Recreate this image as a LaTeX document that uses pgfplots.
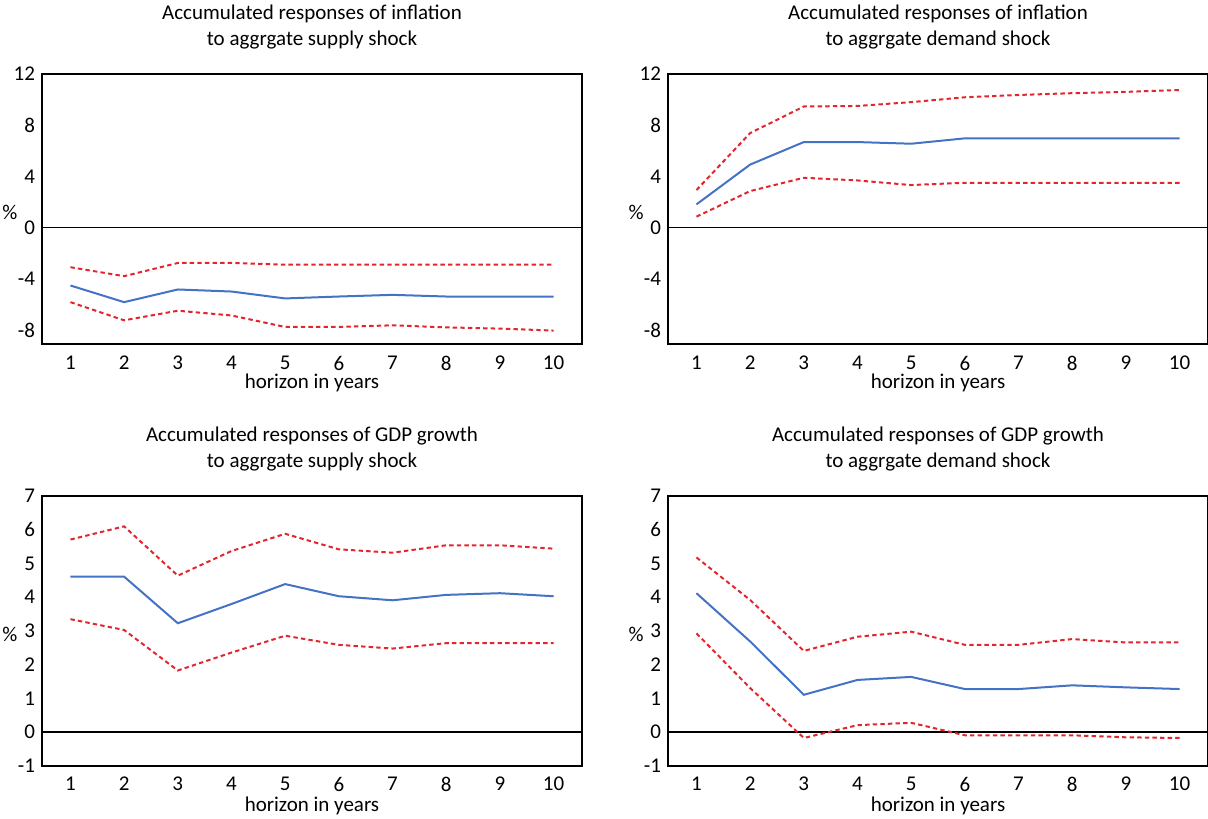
\documentclass[border=0pt]{standalone}
\usepackage{fontspec}
\setmainfont{Carlito}
\usepackage{pgfplots}
\pgfplotsset{compat=1.18}
\definecolor{lblue}{HTML}{4472C4}
\definecolor{lred}{HTML}{E3262E}
\pgfplotsset{
  irf/.style={
    scale only axis, width=270pt, height=135pt,
    xmin=0.47, xmax=10.53,
    xtick={1,...,10},
    axis line style={line width=1pt},
    tick style={draw=none},
    font=\fontsize{10.5}{13.3}\selectfont,
    /pgf/number format/assume math mode=true,
    xticklabel style={yshift=-2.5pt},
    yticklabel style={xshift=0pt},
    title style={at={(0.5,1)}, anchor=south, inner sep=0pt, yshift=6pt, align=center, font=\fontsize{10.5}{13.3}\selectfont},
    every axis x label/.style={at={(axis description cs:0.5,0)}, anchor=base, yshift=-22.5pt},
    every axis y label/.style={at={(axis description cs:0,0.487)}, anchor=center, xshift=-16pt},
    xlabel={horizon in years}, ylabel={\%},
    clip=false,
  },
  mid/.style={color=lblue, line width=1pt},
  band/.style={color=lred, line width=1pt, dash pattern=on 2.2pt off 1.6pt},
}
\begin{document}
\begin{tikzpicture}
\useasboundingbox (0,0) rectangle (604pt,409pt);
% top-left
\begin{axis}[irf, at={(21pt,237pt)}, anchor=south west,
  ymin=-9.1, ymax=12, ytick={-8,-4,0,4,8,12},
  title={Accumulated responses of inflation\\to aggrgate supply shock}]
\draw[line width=0.8pt] (axis cs:0.47,0) -- (axis cs:10.53,0);
\addplot[band] coordinates {(1,-3.1) (2,-3.8) (3,-2.77) (4,-2.77) (5,-2.9) (6,-2.9) (7,-2.9) (8,-2.9) (9,-2.9) (10,-2.9)};
\addplot[band] coordinates {(1,-5.83) (2,-7.25) (3,-6.5) (4,-6.87) (5,-7.77) (6,-7.77) (7,-7.64) (8,-7.8) (9,-7.9) (10,-8.05)};
\addplot[mid] coordinates {(1,-4.53) (2,-5.83) (3,-4.84) (4,-5.0) (5,-5.54) (6,-5.39) (7,-5.26) (8,-5.39) (9,-5.39) (10,-5.39)};
\end{axis}
% top-right
\begin{axis}[irf, at={(334pt,237pt)}, anchor=south west,
  ymin=-9.1, ymax=12, ytick={-8,-4,0,4,8,12},
  title={Accumulated responses of inflation\\to aggrgate demand shock}]
\draw[line width=0.8pt] (axis cs:0.47,0) -- (axis cs:10.53,0);
\addplot[band] coordinates {(1,2.93) (2,7.38) (3,9.46) (4,9.5) (5,9.8) (6,10.18) (7,10.36) (8,10.5) (9,10.6) (10,10.75)};
\addplot[band] coordinates {(1,0.85) (2,2.85) (3,3.89) (4,3.68) (5,3.32) (6,3.5) (7,3.5) (8,3.5) (9,3.5) (10,3.5)};
\addplot[mid] coordinates {(1,1.81) (2,4.92) (3,6.68) (4,6.68) (5,6.55) (6,6.97) (7,6.97) (8,6.97) (9,6.97) (10,6.97)};
\end{axis}
% bottom-left
\begin{axis}[irf, at={(21pt,26pt)}, anchor=south west,
  ymin=-1, ymax=7, ytick={-1,0,...,7},
  xticklabel style={yshift=0.5pt},
  title={Accumulated responses of GDP growth\\to aggrgate supply shock}]
\draw[line width=0.8pt] (axis cs:0.47,0) -- (axis cs:10.53,0);
\addplot[band] coordinates {(1,5.71) (2,6.1) (3,4.64) (4,5.37) (5,5.88) (6,5.42) (7,5.32) (8,5.54) (9,5.54) (10,5.44)};
\addplot[band] coordinates {(1,3.35) (2,3.03) (3,1.83) (4,2.36) (5,2.86) (6,2.59) (7,2.48) (8,2.64) (9,2.64) (10,2.64)};
\addplot[mid] coordinates {(1,4.61) (2,4.61) (3,3.23) (4,3.8) (5,4.39) (6,4.03) (7,3.91) (8,4.07) (9,4.12) (10,4.03)};
\end{axis}
% bottom-right
\begin{axis}[irf, at={(334pt,26pt)}, anchor=south west,
  ymin=-1, ymax=7, ytick={-1,0,...,7},
  xticklabel style={yshift=0.5pt},
  title={Accumulated responses of GDP growth\\to aggrgate demand shock}]
\draw[line width=0.8pt] (axis cs:0.47,0) -- (axis cs:10.53,0);
\addplot[band] coordinates {(1,5.18) (2,3.92) (3,2.41) (4,2.83) (5,2.98) (6,2.59) (7,2.59) (8,2.76) (9,2.66) (10,2.66)};
\addplot[band] coordinates {(1,2.93) (2,1.31) (3,-0.17) (4,0.21) (5,0.28) (6,-0.09) (7,-0.09) (8,-0.09) (9,-0.15) (10,-0.17)};
\addplot[mid] coordinates {(1,4.12) (2,2.69) (3,1.11) (4,1.55) (5,1.64) (6,1.28) (7,1.28) (8,1.39) (9,1.33) (10,1.28)};
\end{axis}
\end{tikzpicture}
\end{document}
